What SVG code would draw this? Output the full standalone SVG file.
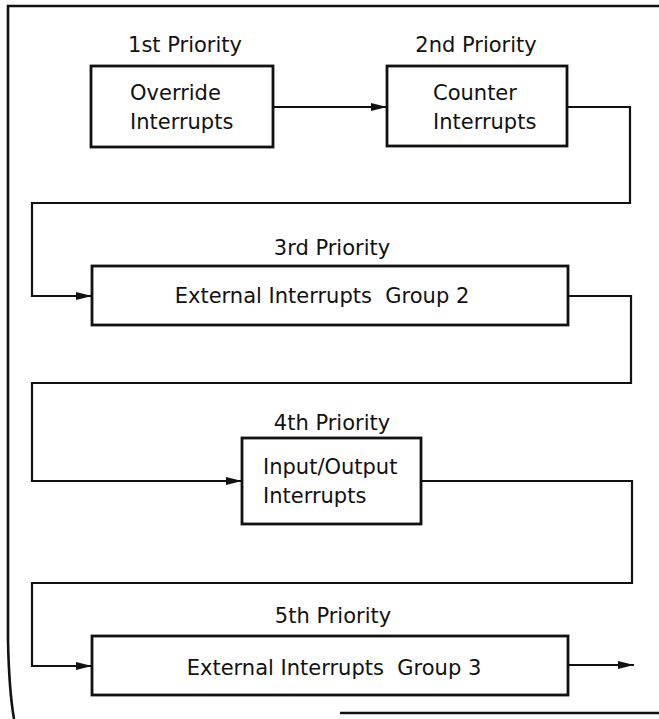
<svg xmlns="http://www.w3.org/2000/svg" width="659" height="719" viewBox="0 0 659 719">
<style>
.box{fill:#fff;stroke:#111;stroke-width:2.8}
.ln{fill:none;stroke:#111;stroke-width:2.2}
.fr{fill:none;stroke:#111;stroke-width:2.6}
text{font-family:"DejaVu Sans","Liberation Sans",sans-serif;font-size:21px;fill:#111}
.c{text-anchor:middle}
</style>
<defs>
<marker id="ah" markerUnits="userSpaceOnUse" markerWidth="18" markerHeight="10" refX="16" refY="5" orient="auto">
<path d="M0,1 L16,5 L0,9 Z" fill="#111"/>
</marker>
</defs>
<rect width="659" height="719" fill="#fff"/>
<g id="frame">
<path class="fr" d="M659,6 H8 V640 Q9,690 14,719"/>
<path class="fr" d="M340,713 H659"/>
</g>
<g id="connectors">
<path class="ln" d="M273,107 H387" marker-end="url(#ah)"/>
<path class="ln" d="M567,107 H630 V203 H32 V296 H92" marker-end="url(#ah)"/>
<path class="ln" d="M568,296 H631 V383 H32 V481 H242" marker-end="url(#ah)"/>
<path class="ln" d="M421,481 H632 V583 H32 V666 H92" marker-end="url(#ah)"/>
<path class="ln" d="M568,665 H634" marker-end="url(#ah)"/>
</g>
<g id="n1">
<text class="c" x="185" y="52">1st Priority</text>
<rect class="box" x="91" y="66" width="182" height="81"/>
<text x="130" y="100">Override</text>
<text x="130" y="129">Interrupts</text>
</g>
<g id="n2">
<text class="c" x="476" y="52">2nd Priority</text>
<rect class="box" x="387" y="66" width="180" height="80"/>
<text x="433" y="100">Counter</text>
<text x="433" y="129">Interrupts</text>
</g>
<g id="n3">
<text class="c" x="332" y="255">3rd Priority</text>
<rect class="box" x="92" y="266" width="476" height="59"/>
<text class="c" x="322" y="303" xml:space="preserve">External Interrupts  Group 2</text>
</g>
<g id="n4">
<text class="c" x="332" y="430">4th Priority</text>
<rect class="box" x="242" y="438" width="179" height="86"/>
<text x="263" y="474">Input/Output</text>
<text x="263" y="503">Interrupts</text>
</g>
<g id="n5">
<text class="c" x="333" y="623">5th Priority</text>
<rect class="box" x="92" y="636" width="476" height="59"/>
<text class="c" x="334" y="675" xml:space="preserve">External Interrupts  Group 3</text>
</g>
</svg>
